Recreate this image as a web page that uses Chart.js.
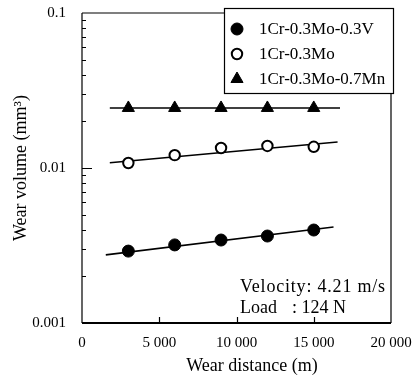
<!DOCTYPE html>
<html>
<head>
<meta charset="utf-8">
<script src="https://cdn.jsdelivr.net/npm/chart.js@4/dist/chart.umd.min.js"></script>
<style>
  html, body { margin: 0; padding: 0; background: #fff; }
  canvas { display: block; }
</style>
</head>
<body>
<canvas id="wear" width="417" height="378"></canvas>
<script>
// measured points (wear distance in m, wear volume in mm3)
const distance = [3000, 6000, 9000, 12000, 15000];
const vanadium = [0.00291, 0.00319, 0.00343, 0.00364, 0.00398];
const plain = [0.01077, 0.0121, 0.01346, 0.01387, 0.0137];
const manganese = [0.0244, 0.0244, 0.0244, 0.0244, 0.0244];

// fitted lines (end points)
const vanadiumFitX = [1540, 16280];
const vanadiumFit = [0.00275, 0.00416];
const plainFitX = [1800, 16540];
const plainFit = [0.0108, 0.0147];
const manganeseFitX = [1800, 16700];
const manganeseFit = [0.0244, 0.0244];

const seriesNames = ['1Cr-0.3Mo-0.3V', '1Cr-0.3Mo', '1Cr-0.3Mo-0.7Mn'];
const distanceTicks = [0, 5000, 10000, 15000, 20000];
const volumeTicks = [0.001, 0.01, 0.1];
const notes = ['Velocity: 4.21 m/s', 'Load', ': 124 N'];

const serif = '"Liberation Serif", "Times New Roman", serif';

function pts(xs, ys) {
  return xs.map((x, i) => ({ x: x, y: ys[i] }));
}

function spaced(v) {
  return String(v).replace(/\B(?=(\d{3})+(?!\d))/g, ' ');
}

const markerStyles = [
  { pointStyle: 'circle', pointRadius: 6, pointBackgroundColor: '#000', pointBorderColor: '#000', pointBorderWidth: 1 },
  { pointStyle: 'circle', pointRadius: 5.2, pointBackgroundColor: '#fff', pointBorderColor: '#000', pointBorderWidth: 2 },
  { pointStyle: 'triangle', pointRadius: 7, pointBackgroundColor: '#000', pointBorderColor: '#000', pointBorderWidth: 1 }
];

function fitLine(xs, ys) {
  return {
    data: pts(xs, ys), showLine: true, pointRadius: 0,
    borderColor: '#000', borderWidth: 1.6, order: 2
  };
}

function markers(ys, idx) {
  return Object.assign({
    label: seriesNames[idx], data: pts(distance, ys), showLine: false, order: 1
  }, markerStyles[idx]);
}

const frameAndNotes = {
  id: 'frameAndNotes',
  afterDraw(chart) {
    const ctx = chart.ctx;
    const a = chart.chartArea;
    const xs = chart.scales.x, ys = chart.scales.y;
    ctx.save();
    ctx.strokeStyle = '#000';

    // frame
    ctx.lineWidth = 1.2;
    ctx.beginPath();
    ctx.moveTo(a.left, a.top); ctx.lineTo(a.left, a.bottom);
    ctx.moveTo(a.left, a.top); ctx.lineTo(a.right, a.top); ctx.lineTo(a.right, a.bottom);
    ctx.stroke();
    ctx.lineWidth = 2;
    ctx.beginPath();
    ctx.moveTo(a.left, a.bottom); ctx.lineTo(a.right, a.bottom);
    ctx.stroke();

    // y minor / major ticks pointing inward
    ctx.lineWidth = 1.2;
    ctx.beginPath();
    for (let e = -3; e < -1; e++) {
      for (let m = 1; m < 10; m++) {
        if (m === 1 && e === -3) continue;
        const v = m * Math.pow(10, e);
        const py = Math.round(ys.getPixelForValue(v)) + 0.5;
        const len = m === 1 ? 10 : 4;
        ctx.moveTo(a.left, py); ctx.lineTo(a.left + len, py);
      }
    }
    // x ticks pointing up
    distanceTicks.slice(1, -1).forEach(v => {
      const px = Math.round(xs.getPixelForValue(v)) + 0.5;
      ctx.moveTo(px, a.bottom); ctx.lineTo(px, a.bottom - 6);
    });
    ctx.stroke();

    // legend box
    const lx = 224, ly = 8, lw = 169, lh = 85;
    ctx.fillStyle = '#fff';
    ctx.fillRect(lx, ly, lw, lh);
    ctx.lineWidth = 1.2;
    ctx.strokeRect(lx + 0.5, ly + 0.5, lw, lh);
    ctx.font = '17px ' + serif;
    ctx.textBaseline = 'middle';
    ctx.textAlign = 'left';
    const rows = [29, 54, 79];
    rows.forEach((ry, i) => {
      const st = markerStyles[i];
      ctx.fillStyle = st.pointBackgroundColor;
      ctx.strokeStyle = st.pointBorderColor;
      ctx.lineWidth = st.pointBorderWidth;
      Chart.helpers.drawPoint(ctx, { pointStyle: st.pointStyle, radius: st.pointRadius, borderWidth: st.pointBorderWidth, rotation: 0 }, 237, ry);
      ctx.fillStyle = '#000';
      ctx.fillText(seriesNames[i], 259, ry + 1);
    });

    // test conditions
    ctx.fillStyle = '#000';
    ctx.font = '18px ' + serif;
    ctx.letterSpacing = '0.8px';
    ctx.fillText(notes[0], 240, 287);
    ctx.letterSpacing = '0px';
    ctx.fillText(notes[1], 240, 308);
    ctx.fillText(notes[2], 292, 308);

    // x axis title
    ctx.font = '18px ' + serif;
    ctx.textAlign = 'center';
    ctx.fillText('Wear distance (m)', 252, 366);
    ctx.restore();
  }
};

new Chart(document.getElementById('wear'), {
  type: 'scatter',
  data: {
    datasets: [
      markers(vanadium, 0),
      markers(plain, 1),
      markers(manganese, 2),
      fitLine(vanadiumFitX, vanadiumFit),
      fitLine(plainFitX, plainFit),
      fitLine(manganeseFitX, manganeseFit)
    ]
  },
  options: {
    responsive: false,
    animation: false,
    devicePixelRatio: 1,
    layout: { padding: { top: 13, right: 26, left: 0, bottom: 0 } },
    plugins: { legend: { display: false }, tooltip: { enabled: false } },
    scales: {
      x: {
        type: 'linear', min: 0, max: 20000,
        afterBuildTicks: s => { s.ticks = distanceTicks.map(v => ({ value: v })); },
        afterFit: s => { s.height = 55; s.paddingLeft = 0; s.paddingRight = 0; },
        grid: { display: false, drawTicks: false },
        border: { display: false },
        ticks: {
          padding: 11, color: '#000', maxRotation: 0, autoSkip: false,
          font: { family: serif, size: 15 },
          callback: v => spaced(v)
        }
      },
      y: {
        type: 'logarithmic', min: 0.001, max: 0.1,
        afterBuildTicks: s => { s.ticks = volumeTicks.map(v => ({ value: v })); },
        afterFit: s => { s.width = 82; s.paddingTop = 0; s.paddingBottom = 0; },
        grid: { display: false, drawTicks: false },
        border: { display: false },
        ticks: {
          padding: 16, color: '#000', autoSkip: false,
          font: { family: serif, size: 15 },
          callback: v => String(v)
        },
        title: {
          display: true, text: 'Wear volume (mm³)', color: '#000',
          font: { family: serif, size: 18 }, padding: { top: 10, bottom: 0 }
        }
      }
    }
  },
  plugins: [frameAndNotes]
});
</script>
</body>
</html>
